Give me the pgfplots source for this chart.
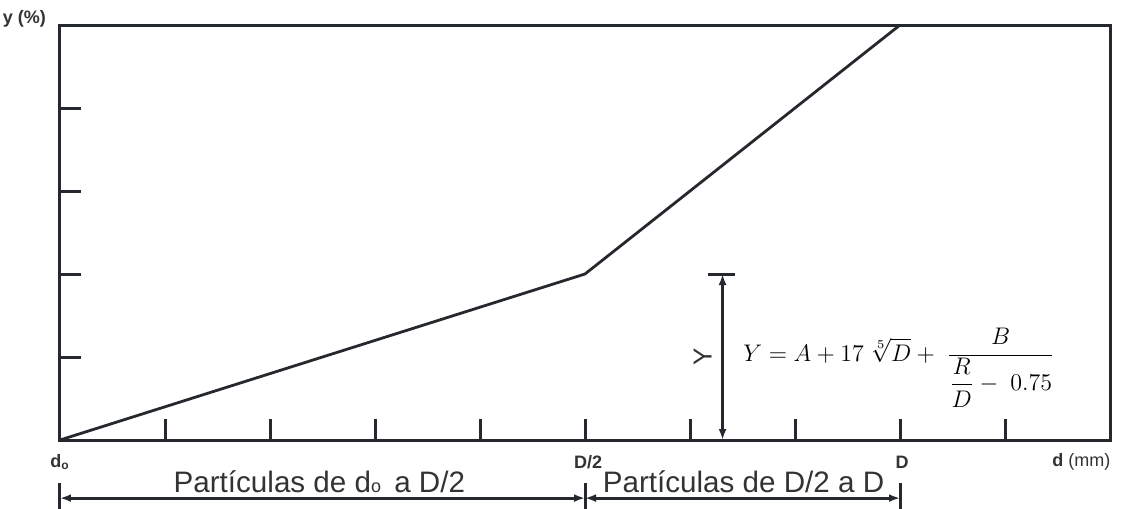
\documentclass[border=0pt]{standalone}
\usepackage{pgfplots}
\pgfplotsset{compat=1.18}
\usetikzlibrary{arrows.meta}
\usepackage{fontspec}
\setmainfont{Liberation Sans}
\definecolor{ink}{HTML}{25292E}
\definecolor{txt}{HTML}{333333}

\begin{document}
\begin{tikzpicture}
\begin{axis}[
  at={(0,0)}, anchor=south west,
  scale only axis, width=525pt, height=207.5pt,
  xmin=0, xmax=10, ymin=0, ymax=5,
  xtick={1,...,9}, ytick={1,2,3,4},
  xticklabels={}, yticklabels={},
  tick pos=left, tick align=inside,
  major tick length=10.5pt,
  axis line style={ink, line width=1.5pt},
  tick style={ink, line width=1.5pt},
  clip=false,
]
% grading curve
\addplot[ink, line width=1.4pt] coordinates {(0,0) (5,2) (8,5)};

% height marker Y
\draw[ink, line width=1.5pt] (axis cs:6.17,2) -- (axis cs:6.43,2);
\draw[ink, line width=1.5pt, {Latex[length=5.5pt,width=4pt]}-{Latex[length=5.5pt,width=4pt]}]
  (axis cs:6.31,2) -- (axis cs:6.31,0);
\node[rotate=90, txt, font=\fontsize{13}{14}\selectfont] at (axis cs:6.12,1.0) {Y};
\node[anchor=base west, black, font=\fontsize{12}{14}\selectfont] at (axis cs:6.44,0.95)
  {$\displaystyle Y = A + 17\;\sqrt[5]{D} + \;\frac{B}{{\displaystyle\frac{R}{D}} - \;0.75}$};

% axis labels
\node[txt, font=\bfseries\fontsize{9}{10}\selectfont] at (axis cs:0,-0.265) {d\textsubscript{o}};
\node[txt, font=\bfseries\fontsize{9}{10}\selectfont] at (axis cs:5.03,-0.265) {D/2};
\node[txt, font=\bfseries\fontsize{9}{10}\selectfont] at (axis cs:8.02,-0.265) {D};
\node[txt, anchor=east, font=\fontsize{9}{10}\selectfont] at (axis cs:10.07,-0.265) {\textbf{d} (mm)};
\node[txt, anchor=east, font=\bfseries\fontsize{9}{10}\selectfont] at (axis cs:-0.067,5.08) {y (\%)};

% particle ranges
\draw[ink, line width=1.5pt] (axis cs:0,-0.52) -- (axis cs:0,-0.95);
\draw[ink, line width=1.5pt] (axis cs:5,-0.52) -- (axis cs:5,-0.95);
\draw[ink, line width=1.5pt] (axis cs:8,-0.52) -- (axis cs:8,-0.95);
\draw[ink, line width=1.5pt, {Latex[length=5.5pt,width=4pt]}-{Latex[length=5.5pt,width=4pt]}]
  (axis cs:0,-0.70) -- (axis cs:5,-0.70);
\draw[ink, line width=1.5pt, {Latex[length=5.5pt,width=4pt]}-{Latex[length=5.5pt,width=4pt]}]
  (axis cs:5,-0.70) -- (axis cs:8,-0.70);
\node[txt, anchor=base, font=\fontsize{14.8}{16}\selectfont] at (axis cs:2.47,-0.627)
  {Partículas de d{\fontsize{9}{10}\selectfont o}\, a D/2};
\node[txt, anchor=base, font=\fontsize{14.8}{16}\selectfont] at (axis cs:6.51,-0.627)
  {Partículas de D/2 a D};
\end{axis}
\pgfresetboundingbox
\path[use as bounding box] (-30pt,-34.5pt) rectangle (533pt,220pt);
\end{tikzpicture}
\end{document}
